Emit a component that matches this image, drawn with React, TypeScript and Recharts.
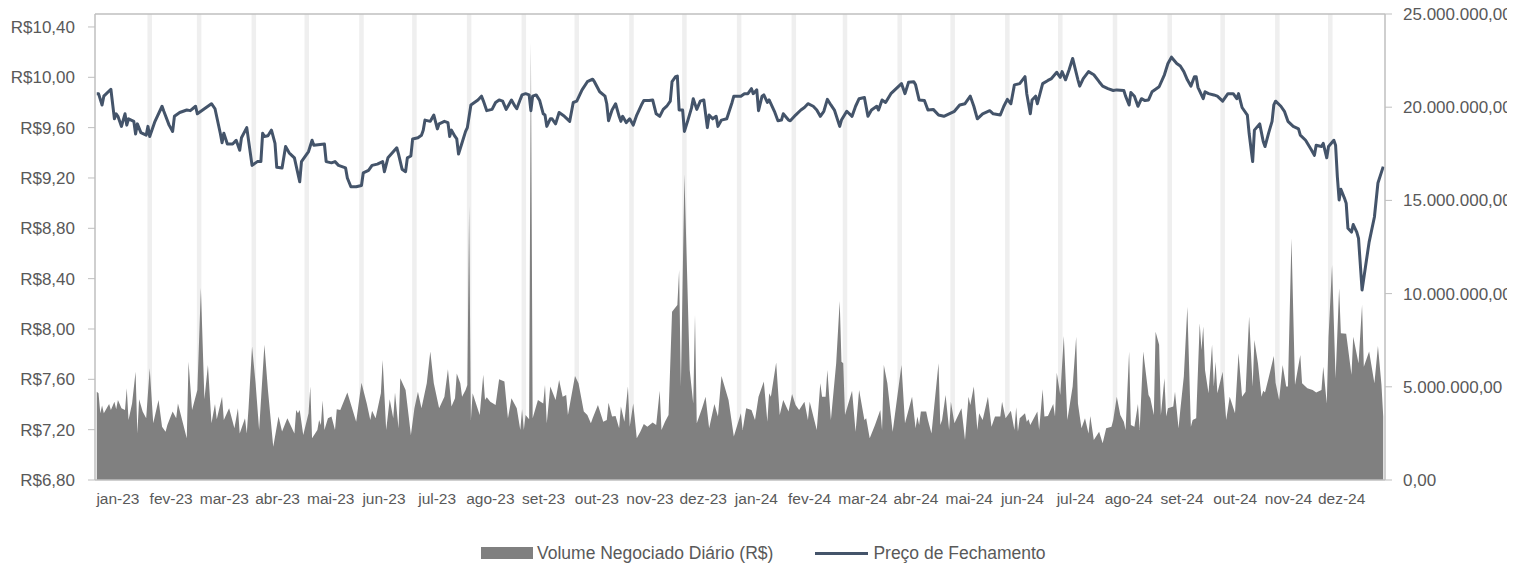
import { ComposedChart, Area, Line, XAxis, YAxis, CartesianGrid, ReferenceLine } from 'recharts';

// month labels on the x axis
const monthLabels = [
  'jan-23', 'fev-23', 'mar-23', 'abr-23', 'mai-23', 'jun-23', 'jul-23', 'ago-23', 'set-23', 'out-23', 'nov-23', 'dez-23',
  'jan-24', 'fev-24', 'mar-24', 'abr-24', 'mai-24', 'jun-24', 'jul-24', 'ago-24', 'set-24', 'out-24', 'nov-24', 'dez-24',
];

const priceTicks = [6.8, 7.2, 7.6, 8.0, 8.4, 8.8, 9.2, 9.6, 10.0, 10.4];
const volumeTicks = [0, 5, 10, 15, 20, 25]; // milhões de R$

// Preço de Fechamento (R$)
const priceDates2023 = [
  '01-02', '01-03', '01-05', '01-06', '01-10', '01-12', '01-13', '01-14', '01-16', '01-18', '01-19', '01-20', '01-23', '01-24', '01-25', '01-27', '01-30', '01-31',
  '02-01', '02-04', '02-08', '02-09', '02-12', '02-14', '02-15', '02-18', '02-22', '02-24', '02-27', '02-28',
  '03-04', '03-08', '03-10', '03-13', '03-14', '03-15', '03-17', '03-20', '03-22', '03-24', '03-25', '03-28', '03-31',
  '04-03', '04-05', '04-06', '04-07', '04-09', '04-11', '04-13', '04-14', '04-17', '04-19', '04-21', '04-24', '04-27', '04-28',
  '05-02', '05-04', '05-05', '05-11', '05-12', '05-15', '05-17', '05-19', '05-23', '05-24', '05-26', '05-29',
  '06-01', '06-02', '06-05', '06-07', '06-10', '06-13', '06-14', '06-16', '06-21', '06-22', '06-24', '06-26', '06-27', '06-29', '06-30',
  '07-03', '07-05', '07-06', '07-07', '07-10', '07-12', '07-14', '07-15', '07-18', '07-20', '07-21', '07-22', '07-24', '07-25', '07-26', '07-28', '07-30', '07-31',
  '08-02', '08-04', '08-06', '08-08', '08-09', '08-11', '08-14', '08-16', '08-18', '08-20', '08-22', '08-25', '08-27', '08-28', '08-30', '08-31',
  '09-02', '09-04', '09-05', '09-06', '09-08', '09-10', '09-12', '09-13', '09-14', '09-16', '09-17', '09-19', '09-21', '09-22', '09-24', '09-27', '09-29',
  '10-01', '10-04', '10-07', '10-10', '10-11', '10-14', '10-17', '10-18', '10-19', '10-21', '10-23', '10-25', '10-26', '10-27', '10-29', '10-31',
  '11-02', '11-04', '11-07', '11-08', '11-11', '11-13', '11-15', '11-17', '11-19', '11-21', '11-23', '11-24', '11-26', '11-27', '11-28', '11-30',
  '12-01', '12-03', '12-05', '12-06', '12-08', '12-10', '12-12', '12-14', '12-15', '12-17', '12-19', '12-20', '12-22', '12-25', '12-28', '12-29',
];
const price2023 = [
  9.87, 9.87, 9.78, 9.85, 9.905, 9.67, 9.71, 9.69, 9.61, 9.71, 9.62, 9.67, 9.65, 9.55, 9.63, 9.56, 9.54, 9.61,
  9.53, 9.65, 9.77, 9.73, 9.62, 9.57, 9.69, 9.72, 9.74, 9.735, 9.77, 9.71,
  9.75, 9.79, 9.75, 9.555, 9.48, 9.555, 9.47, 9.47, 9.5, 9.42, 9.52, 9.6, 9.3,
  9.33, 9.33, 9.555, 9.53, 9.535, 9.58, 9.475, 9.285, 9.28, 9.45, 9.4, 9.36, 9.17, 9.33,
  9.41, 9.5, 9.46, 9.47, 9.33, 9.32, 9.33, 9.3, 9.28, 9.2, 9.13, 9.13,
  9.14, 9.24, 9.26, 9.3, 9.31, 9.33, 9.25, 9.36, 9.44, 9.39, 9.27, 9.25, 9.36, 9.375, 9.51,
  9.52, 9.54, 9.58, 9.66, 9.65, 9.7, 9.59, 9.63, 9.65, 9.64, 9.53, 9.58, 9.53, 9.51, 9.39, 9.48, 9.57, 9.6,
  9.78, 9.8, 9.82, 9.85, 9.815, 9.735, 9.745, 9.8, 9.82, 9.81, 9.745, 9.82, 9.77, 9.75, 9.825, 9.86,
  9.87, 9.86, 9.735, 9.85, 9.86, 9.815, 9.71, 9.7, 9.61, 9.67, 9.67, 9.63, 9.72, 9.71, 9.69, 9.65, 9.8,
  9.81, 9.9, 9.965, 9.985, 9.965, 9.885, 9.85, 9.79, 9.655, 9.74, 9.79, 9.69, 9.65, 9.69, 9.64, 9.67,
  9.62, 9.7, 9.79, 9.815, 9.815, 9.82, 9.71, 9.69, 9.745, 9.77, 9.81, 9.965, 10.005, 10.01, 9.74, 9.74,
  9.57, 9.66, 9.755, 9.83, 9.745, 9.81, 9.82, 9.6, 9.7, 9.67, 9.69, 9.61, 9.66, 9.67, 9.8, 9.85,
];
const priceDates2024 = [
  '01-02', '01-04', '01-06', '01-08', '01-09', '01-11', '01-12', '01-14', '01-15', '01-17', '01-18', '01-21', '01-23', '01-25', '01-26', '01-29', '01-30',
  '02-02', '02-05', '02-07', '02-09', '02-12', '02-14', '02-16', '02-18', '02-20', '02-22', '02-24', '02-27', '02-28',
  '03-02', '03-05', '03-07', '03-09', '03-12', '03-14', '03-16', '03-19', '03-20', '03-22', '03-24', '03-27', '03-30',
  '04-02', '04-04', '04-06', '04-09', '04-10', '04-12', '04-15', '04-17', '04-20', '04-23', '04-26', '04-29',
  '05-02', '05-05', '05-08', '05-11', '05-13', '05-15', '05-18', '05-22', '05-24', '05-28', '05-30',
  '06-01', '06-03', '06-05', '06-08', '06-11', '06-12', '06-14', '06-15', '06-17', '06-18', '06-21', '06-24', '06-26', '06-29',
  '07-01', '07-02', '07-04', '07-06', '07-08', '07-11', '07-12', '07-14', '07-17', '07-20', '07-23', '07-25', '07-28', '07-31',
  '08-02', '08-06', '08-07', '08-09', '08-10', '08-12', '08-14', '08-16', '08-18', '08-20', '08-22', '08-26', '08-29', '08-31',
  '09-02', '09-05', '09-07', '09-09', '09-11', '09-13', '09-15', '09-16', '09-17', '09-20', '09-21', '09-23', '09-26', '09-28',
  '10-01', '10-04', '10-07', '10-09', '10-10', '10-12', '10-15', '10-16', '10-18', '10-19', '10-22', '10-24', '10-25', '10-27', '10-29', '10-30', '10-31',
  '11-03', '11-05', '11-07', '11-10', '11-13', '11-14', '11-17', '11-20', '11-22', '11-23', '11-26', '11-27', '11-29', '11-30',
  '12-03', '12-04', '12-05', '12-06', '12-07', '12-09', '12-10', '12-11', '12-13', '12-14', '12-16', '12-17', '12-19', '12-21', '12-23', '12-26', '12-28', '12-31',
];
const price2024 = [
  9.85, 9.87, 9.87, 9.91, 9.87, 9.9, 9.735, 9.85, 9.86, 9.8, 9.82, 9.73, 9.655, 9.66, 9.71, 9.66, 9.655,
  9.7, 9.74, 9.76, 9.79, 9.77, 9.74, 9.69, 9.73, 9.825, 9.78, 9.74, 9.61, 9.66,
  9.73, 9.69, 9.77, 9.83, 9.84, 9.69, 9.74, 9.77, 9.74, 9.82, 9.8, 9.87, 9.91,
  9.95, 9.87, 9.96, 9.965, 9.94, 9.82, 9.815, 9.74, 9.745, 9.7, 9.69, 9.71,
  9.73, 9.78, 9.79, 9.85, 9.77, 9.67, 9.71, 9.735, 9.71, 9.7, 9.77,
  9.825, 9.79, 9.94, 9.95, 10.005, 9.87, 9.71, 9.82, 9.85, 9.79, 9.95, 9.975, 9.99, 10.04,
  10.0, 10.045, 9.98, 10.06, 10.15, 9.98, 9.93, 9.99, 10.045, 10.02, 9.965, 9.93, 9.91, 9.895,
  9.9, 9.895, 9.85, 9.78, 9.88, 9.85, 9.77, 9.83, 9.815, 9.82, 9.885, 9.925, 10.02, 10.11,
  10.16, 10.11, 10.09, 10.045, 9.98, 9.93, 10.005, 10.005, 9.92, 9.83, 9.885, 9.87, 9.86, 9.85,
  9.81, 9.87, 9.87, 9.83, 9.87, 9.76, 9.7, 9.555, 9.33, 9.58, 9.63, 9.49, 9.45, 9.555, 9.65, 9.78, 9.81,
  9.77, 9.73, 9.65, 9.61, 9.59, 9.54, 9.5, 9.43, 9.38, 9.46, 9.45, 9.475, 9.36, 9.45,
  9.5, 9.46, 9.21, 9.025, 9.11, 9.04, 9.0, 8.8, 8.77, 8.83, 8.77, 8.72, 8.31, 8.5, 8.69, 8.89, 9.16, 9.29,
];

// Volume Negociado Diário, em milhões de R$
const volumeDates2023 = [
  '01-02', '01-03', '01-04', '01-05', '01-06', '01-09', '01-10', '01-12', '01-13', '01-14', '01-16', '01-18', '01-19', '01-20', '01-22', '01-24', '01-25', '01-26', '01-28', '01-30',
  '02-01', '02-03', '02-06', '02-08', '02-10', '02-11', '02-14', '02-16', '02-17', '02-22', '02-23', '02-25', '02-28',
  '03-02', '03-04', '03-06', '03-08', '03-10', '03-11', '03-14', '03-15', '03-18', '03-21', '03-23', '03-24', '03-27', '03-28', '03-29', '03-31',
  '04-02', '04-04', '04-07', '04-09', '04-12', '04-15', '04-17', '04-20', '04-24', '04-25', '04-26', '04-27', '04-29',
  '05-02', '05-03', '05-04', '05-07', '05-08', '05-09', '05-10', '05-11', '05-13', '05-15', '05-17', '05-18', '05-20', '05-24', '05-29',
  '06-01', '06-04', '06-06', '06-07', '06-09', '06-12', '06-13', '06-15', '06-17', '06-19', '06-20', '06-22', '06-23', '06-26', '06-28', '06-29',
  '07-01', '07-03', '07-05', '07-08', '07-10', '07-12', '07-15', '07-18', '07-20', '07-22', '07-24', '07-25', '07-27', '07-28', '07-30', '07-31',
  '08-01', '08-02', '08-03', '08-07', '08-09', '08-10', '08-11', '08-13', '08-16', '08-18', '08-21', '08-23', '08-25', '08-28', '08-30', '08-31',
  '09-01', '09-02', '09-04', '09-05', '09-06', '09-09', '09-12', '09-13', '09-14', '09-16', '09-19', '09-21', '09-23', '09-25', '09-26', '09-30',
  '10-02', '10-05', '10-07', '10-09', '10-10', '10-13', '10-16', '10-18', '10-19', '10-21', '10-23', '10-25', '10-26', '10-28', '10-30', '10-31',
  '11-02', '11-04', '11-06', '11-08', '11-10', '11-13', '11-15', '11-17', '11-18', '11-20', '11-22', '11-24', '11-27', '11-28', '11-29',
  '12-01', '12-04', '12-06', '12-07', '12-08', '12-11', '12-13', '12-15', '12-18', '12-20', '12-22', '12-26', '12-29',
];
const volume2023 = [
  4.74, 4.65, 3.58, 4.0, 3.58, 4.08, 3.76, 4.2, 3.79, 4.29, 3.85, 3.76, 4.92, 3.22, 4.11, 5.81, 2.5, 4.33, 3.67, 3.31,
  5.99, 3.04, 4.29, 2.86, 2.59, 2.95, 3.67, 3.31, 4.11, 2.24, 6.35, 3.76, 4.83,
  10.3, 4.33, 6.17, 3.04, 4.08, 3.26, 4.47, 3.22, 3.85, 2.77, 3.85, 2.5, 3.31, 2.5, 3.85, 7.16,
  5.19, 2.68, 7.25, 4.83, 1.79, 3.4, 2.6, 3.31, 2.5, 3.76, 3.58, 3.76, 2.41,
  3.58, 5.01, 2.24, 2.68, 3.22, 2.95, 4.26, 2.68, 3.31, 3.4, 2.68, 3.79, 3.76, 4.69, 3.13,
  5.22, 4.11, 3.22, 3.72, 3.31, 4.65, 6.44, 2.68, 4.33, 3.31, 4.69, 2.77, 5.46, 4.83, 3.22, 2.41,
  3.85, 4.74, 3.85, 5.19, 6.89, 5.19, 3.85, 4.47, 5.94, 3.94, 4.38, 5.72, 5.19, 4.47, 4.83, 5.1,
  14.7, 3.22, 4.65, 3.49, 5.64, 4.29, 4.44, 4.2, 4.03, 5.4, 5.28, 3.31, 4.38, 3.85, 2.68, 3.79,
  2.68, 3.49, 3.26, 23.5, 3.31, 4.29, 4.11, 5.1, 3.04, 5.01, 4.29, 5.37, 4.47, 4.56, 3.49, 5.58,
  5.19, 3.67, 3.49, 3.04, 3.31, 4.03, 3.13, 3.22, 4.15, 3.4, 3.43, 2.77, 3.94, 3.13, 5.01, 2.86,
  4.11, 2.24, 2.59, 3.0, 2.86, 3.08, 2.95, 4.79, 2.68, 3.13, 3.49, 9.03, 9.39, 11.27, 5.01,
  16.4, 5.9, 4.11, 8.86, 3.04, 3.85, 4.47, 2.77, 4.08, 3.4, 5.58, 4.29, 2.33,
];
const volumeDates2024 = [
  '01-02', '01-03', '01-05', '01-08', '01-10', '01-12', '01-15', '01-17', '01-18', '01-19', '01-22', '01-24', '01-26', '01-29', '01-31',
  '02-02', '02-04', '02-07', '02-09', '02-10', '02-14', '02-16', '02-17', '02-19', '02-20', '02-22', '02-25', '02-27', '02-28', '02-29',
  '03-01', '03-05', '03-07', '03-09', '03-12', '03-13', '03-15', '03-18', '03-21', '03-22', '03-23', '03-25', '03-28',
  '04-02', '04-04', '04-08', '04-10', '04-11', '04-12', '04-13', '04-16', '04-17', '04-19', '04-23', '04-24', '04-25', '04-27', '04-29', '04-30',
  '05-02', '05-06', '05-08', '05-10', '05-11', '05-13', '05-15', '05-16', '05-18', '05-21', '05-23', '05-25', '05-28', '05-29', '05-31',
  '06-03', '06-05', '06-06', '06-07', '06-08', '06-11', '06-12', '06-13', '06-14', '06-18', '06-19', '06-21', '06-22', '06-24', '06-27', '06-28', '06-29',
  '07-01', '07-03', '07-05', '07-08', '07-10', '07-11', '07-13', '07-15', '07-17', '07-18', '07-20', '07-23', '07-25', '07-27', '07-30', '07-31',
  '08-02', '08-04', '08-06', '08-07', '08-09', '08-10', '08-12', '08-14', '08-15', '08-17', '08-20', '08-21', '08-23', '08-24', '08-26', '08-27', '08-29', '08-30', '08-31',
  '09-03', '09-04', '09-06', '09-07', '09-09', '09-11', '09-13', '09-14', '09-16', '09-18', '09-19', '09-20', '09-21', '09-23', '09-25', '09-26', '09-27', '09-28',
  '10-01', '10-03', '10-05', '10-08', '10-10', '10-12', '10-14', '10-16', '10-18', '10-19', '10-21', '10-23', '10-24', '10-25', '10-27', '10-30', '10-31',
  '11-02', '11-04', '11-06', '11-07', '11-09', '11-11', '11-14', '11-15', '11-18', '11-21', '11-23', '11-26', '11-27', '11-29', '11-30',
  '12-02', '12-04', '12-06', '12-07', '12-10', '12-13', '12-14', '12-17', '12-19', '12-20', '12-23', '12-26', '12-28', '12-30', '12-31',
];
const volume2024 = [
  3.58, 2.68, 3.85, 3.76, 3.22, 4.47, 5.28, 3.13, 4.65, 4.47, 6.3, 3.49, 4.29, 3.67, 4.62,
  4.03, 3.76, 4.2, 3.22, 4.2, 2.68, 5.19, 4.47, 4.47, 5.9, 3.22, 6.26, 9.6, 6.35, 6.26,
  3.49, 4.79, 2.59, 4.83, 3.22, 3.31, 2.24, 2.95, 3.76, 2.68, 6.17, 5.19, 2.59,
  6.17, 3.04, 4.47, 2.77, 3.4, 2.95, 3.67, 3.67, 3.22, 2.5, 6.26, 2.95, 3.22, 4.56, 2.68, 4.2,
  3.04, 3.85, 2.15, 4.47, 4.03, 5.01, 2.68, 3.58, 3.22, 4.47, 2.86, 3.4, 3.4, 4.2, 3.31,
  3.72, 2.68, 3.9, 2.6, 3.31, 3.58, 3.13, 3.26, 2.95, 3.67, 2.68, 4.87, 3.4, 3.43, 4.08, 3.4, 5.76,
  4.56, 7.73, 3.22, 5.01, 7.69, 4.11, 2.77, 3.31, 2.5, 3.43, 2.15, 2.59, 1.97, 2.77, 2.86, 3.22,
  4.47, 3.49, 3.13, 2.68, 6.89, 2.95, 2.86, 4.08, 2.68, 6.89, 4.56, 4.38, 3.49, 7.96, 7.25, 3.49, 5.46, 3.4, 3.85,
  3.94, 4.74, 2.77, 3.76, 5.55, 9.3, 2.86, 3.22, 3.31, 8.41, 6.98, 8.23, 5.9, 4.65, 7.25, 5.01, 6.35, 4.65,
  5.81, 3.22, 4.47, 3.58, 6.8, 4.47, 4.74, 8.77, 5.01, 7.51, 6.26, 4.47, 4.79, 4.69, 5.46, 6.65, 5.22,
  4.29, 6.17, 5.01, 5.01, 12.97, 5.1, 6.71, 5.19, 4.92, 4.83, 4.69, 4.83, 6.08, 4.11, 7.69,
  11.54, 5.46, 10.29, 7.87, 7.84, 5.64, 7.69, 6.26, 9.39, 6.08, 6.89, 5.19, 7.19, 5.1, 3.4,
];

const DAY = 86400000;
const ORIGIN = Date.UTC(2023, 0, 1);
const dayOf = (year: number, md: string) =>
  (Date.UTC(year, Number(md.slice(0, 2)) - 1, Number(md.slice(3, 5))) - ORIGIN) / DAY;

const priceData = [
  ...priceDates2023.map((d, i) => ({ t: dayOf(2023, d), p: price2023[i] })),
  ...priceDates2024.map((d, i) => ({ t: dayOf(2024, d), p: price2024[i] })),
];
const volumeData = [
  ...volumeDates2023.map((d, i) => ({ t: dayOf(2023, d), v: volume2023[i] })),
  ...volumeDates2024.map((d, i) => ({ t: dayOf(2024, d), v: volume2024[i] })),
];

// first day of each month (gridlines) and label positions
const monthStarts = monthLabels.map((_, i) => (Date.UTC(2023 + Math.floor(i / 12), i % 12, 1) - ORIGIN) / DAY);
const labelTicks = monthLabels.map((_, i) => 13 + i * 30.15);
const END_DAY = (Date.UTC(2025, 0, 1) - ORIGIN) / DAY;

const fmtPrice = (v: number) => 'R$' + v.toFixed(2).replace('.', ',');
const fmtVolume = (v: number) =>
  String(Math.round(v * 1e6)).replace(/\B(?=(\d{3})+(?!\d))/g, '.') + ',00';

const AXIS = '#bfbfbf';
const TEXT = '#595959';
const PRICE = '#44546A';
const VOLUME = '#808080';

// month-start gridlines, mapped through the x axis scale (or the plot offset as fallback)
const monthGrid = ({ xAxis, offset }: any) =>
  monthStarts.slice(1).map((d) => {
    const s = xAxis && xAxis.scale;
    if (typeof s === 'function') return s(d);
    if (s && typeof s.map === 'function') return s.map(d);
    return offset.left + (d / END_DAY) * offset.width;
  });

export default function App() {
  return (
    <div style={{ width: 1507, marginTop: -8, fontFamily: '"Liberation Sans", Arial, sans-serif' }}>
      <ComposedChart width={1507} height={508} margin={{ top: 14, right: 0, bottom: 0, left: 0 }}>
        <CartesianGrid
          horizontal={false}
          stroke="#efefef"
          strokeWidth={4.5}
          verticalCoordinatesGenerator={monthGrid}
        />
        <XAxis
          type="number"
          dataKey="t"
          domain={[0, END_DAY]}
          ticks={labelTicks}
          interval={0}
          tickFormatter={(_v: number, i: number) => monthLabels[i]}
          tickLine={false}
          tickSize={0}
          tickMargin={13}
          height={28}
          axisLine={{ stroke: AXIS, strokeWidth: 1.5 }}
          tick={{ fill: TEXT, fontSize: 15.5 }}
        />
        <YAxis
          yAxisId="price"
          orientation="left"
          width={87}
          domain={[6.8, 10.503]}
          allowDataOverflow
          ticks={priceTicks}
          interval={0}
          tickFormatter={fmtPrice}
          tickSize={7}
          tickMargin={13}
          axisLine={{ stroke: AXIS, strokeWidth: 1.5 }}
          tickLine={{ stroke: AXIS }}
          tick={{ fill: TEXT, fontSize: 17 }}
        />
        <YAxis
          yAxisId="vol"
          orientation="right"
          width={130}
          domain={[0, 25]}
          allowDataOverflow
          ticks={volumeTicks}
          interval={0}
          tickFormatter={fmtVolume}
          tickSize={7}
          tickMargin={11}
          axisLine={{ stroke: AXIS, strokeWidth: 1.5 }}
          tickLine={{ stroke: AXIS }}
          tick={{ fill: TEXT, fontSize: 17 }}
        />
        <ReferenceLine yAxisId="vol" y={25} stroke={AXIS} strokeWidth={1.5} />
        <Area
          yAxisId="vol"
          data={volumeData}
          dataKey="v"
          type="linear"
          stroke="none"
          fill={VOLUME}
          fillOpacity={1}
          isAnimationActive={false}
        />
        <Line
          yAxisId="price"
          data={priceData}
          dataKey="p"
          type="linear"
          stroke={PRICE}
          strokeWidth={3}
          strokeLinejoin="round"
          dot={false}
          activeDot={false}
          isAnimationActive={false}
        />
      </ComposedChart>
      <div
        style={{
          display: 'flex',
          alignItems: 'center',
          marginTop: 35,
          paddingLeft: 473,
          height: 20,
          color: TEXT,
          fontSize: 17.5,
          whiteSpace: 'nowrap',
        }}
      >
        <span style={{ display: 'inline-block', width: 52, height: 12, background: VOLUME, marginRight: 4 }} />
        <span>Volume Negociado Diário (R$)</span>
        <span style={{ display: 'inline-block', width: 53, height: 3, background: PRICE, marginLeft: 42, marginRight: 5 }} />
        <span>Preço de Fechamento</span>
      </div>
    </div>
  );
}
